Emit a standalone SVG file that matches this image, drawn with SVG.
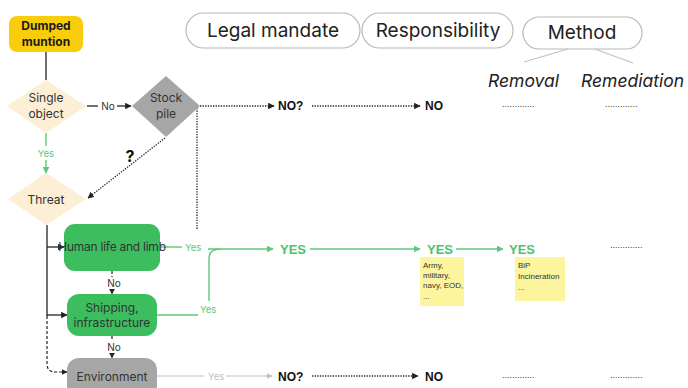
<svg xmlns="http://www.w3.org/2000/svg" width="688" height="388" viewBox="0 0 688 388">
<style>
text{font-family:Inter,"Open Sans","Liberation Sans",sans-serif;}
.pill{fill:#fff;stroke:#b8b8b8;stroke-width:1.2;}
.hdr{font-size:19px;fill:#222;text-anchor:middle;}
.it{font-size:17.5px;font-style:italic;fill:#222;}
.nd{font-size:12px;fill:#333;text-anchor:middle;}
.bk{font-family:"Liberation Sans",Arial,sans-serif;font-weight:bold;font-size:12px;fill:#111;}
.yes{font-family:"Liberation Sans",Arial,sans-serif;font-weight:bold;font-size:13px;fill:#4cc36a;}
.gy{font-size:9.5px;fill:#5ec87a;}
.lb{font-size:10px;fill:#333;text-anchor:middle;}
.dots{font-family:"Liberation Sans",Arial,sans-serif;font-size:9px;fill:#333;}
.note{fill:#fdf59e;}
.nt{font-family:"Liberation Sans",Arial,sans-serif;font-size:8px;fill:#333;}
.k{stroke:#222;stroke-width:1.3;fill:none;}
.dot{stroke:#222;stroke-width:1.3;stroke-dasharray:1.3 1.3;fill:none;}
.dash{stroke:#222;stroke-width:1.2;stroke-dasharray:3 2;fill:none;}
.g{stroke:#5ec87a;stroke-width:1.4;fill:none;}
.gr{stroke:#c0c0c0;stroke-width:1.2;fill:none;}
</style>
<defs>
<marker id="ak" viewBox="0 0 10 10" refX="9" refY="5" markerWidth="5" markerHeight="5" orient="auto"><path d="M0,0L10,5L0,10z" fill="#222"/></marker>
<marker id="ag" viewBox="0 0 10 10" refX="9" refY="5" markerWidth="5" markerHeight="5" orient="auto"><path d="M0,0L10,5L0,10z" fill="#5ec87a"/></marker>
<marker id="agr" viewBox="0 0 10 10" refX="9" refY="5" markerWidth="5" markerHeight="5" orient="auto"><path d="M0,0L10,5L0,10z" fill="#c0c0c0"/></marker>
</defs>
<rect width="688" height="388" fill="#fff"/>

<g id="headers">
<rect class="pill" x="186" y="13" width="174" height="35" rx="17.5"/>
<text class="hdr" x="273" y="37">Legal mandate</text>
<rect class="pill" x="362" y="13" width="151" height="35" rx="17.5"/>
<text class="hdr" x="438" y="37">Responsibility</text>
<rect class="pill" x="523" y="17" width="119" height="32" rx="16"/>
<text class="hdr" x="582" y="39">Method</text>
<line class="gr" x1="568" y1="49" x2="524" y2="62"/>
<line class="gr" x1="595" y1="49" x2="633" y2="63"/>
<text class="it" x="488" y="87">Removal</text>
<text class="it" x="581" y="87">Remediation</text>
</g>

<g id="connectors">
<line class="k" x1="46" y1="52" x2="46" y2="80"/>
<line class="k" x1="87" y1="106" x2="98" y2="106"/>
<line class="k" x1="117" y1="106" x2="131" y2="106" marker-end="url(#ak)"/>
<line class="g" x1="46" y1="133" x2="46" y2="146"/>
<line class="g" x1="46" y1="160" x2="46" y2="173" marker-end="url(#ag)"/>
<line class="dot" x1="200" y1="106" x2="274" y2="106" marker-end="url(#ak)"/>
<line class="dot" x1="197" y1="108" x2="197" y2="230"/>
<line class="dot" x1="165" y1="138" x2="88" y2="198" marker-end="url(#ak)"/>
<line class="dot" x1="312" y1="106" x2="420" y2="106" marker-end="url(#ak)"/>
<line class="k" x1="47" y1="225" x2="47" y2="316"/>
<line class="k" x1="47" y1="247" x2="64" y2="247" marker-end="url(#ak)"/>
<line class="k" x1="47" y1="315" x2="67" y2="315" marker-end="url(#ak)"/>
<path class="dash" d="M47,316 V364 Q47,372 56,372 H67" marker-end="url(#ak)"/>
<line class="dash" x1="112" y1="271" x2="112" y2="277"/>
<line class="dash" x1="112" y1="289" x2="112" y2="294" marker-end="url(#ak)"/>
<line class="dash" x1="112" y1="336" x2="112" y2="341"/>
<line class="dash" x1="112" y1="353" x2="112" y2="358" marker-end="url(#ak)"/>
<line class="g" x1="160" y1="247" x2="182" y2="247"/>
<line class="g" x1="208" y1="249" x2="273" y2="249" marker-end="url(#ag)"/>
<path class="g" d="M209,301 V259 Q209,249 220,249"/>
<line class="g" x1="157" y1="315" x2="198" y2="315"/>
<line class="g" x1="310" y1="249" x2="420" y2="249" marker-end="url(#ag)"/>
<line class="g" x1="456" y1="249" x2="503" y2="249" marker-end="url(#ag)"/>
<line class="gr" x1="157" y1="376" x2="204" y2="376"/>
<line class="gr" x1="226" y1="376" x2="272" y2="376" marker-end="url(#agr)"/>
<line class="dot" x1="312" y1="376" x2="418" y2="376" marker-end="url(#ak)"/>
</g>

<g id="labels">
<text class="lb" x="108" y="110" font-size="11">No</text>
<text class="gy" x="46" y="157" text-anchor="middle">Yes</text>
<text x="130" y="162" font-family="Liberation Sans,Arial,sans-serif" font-weight="bold" font-size="16" fill="#111" text-anchor="middle">?</text>
<text class="bk" x="278" y="110">NO?</text>
<text class="bk" x="425" y="110">NO</text>
<text class="dots" x="502" y="107">.............</text>
<text class="dots" x="605" y="107">.............</text>
<text class="gy" x="185" y="251">Yes</text>
<text class="gy" x="200" y="313">Yes</text>
<text class="lb" x="114" y="287">No</text>
<text class="lb" x="114" y="351">No</text>
<text class="yes" x="280" y="254">YES</text>
<text class="yes" x="427" y="254">YES</text>
<text class="yes" x="509" y="254">YES</text>
<text class="dots" x="610" y="248">.............</text>
<text x="208" y="380" font-size="9.5" fill="#c0c0c0">Yes</text>
<text class="bk" x="278" y="381">NO?</text>
<text class="bk" x="425" y="381">NO</text>
<text class="dots" x="502" y="378">.............</text>
<text class="dots" x="610" y="378">.............</text>
</g>

<g id="dumped">
<rect x="9" y="16" width="74" height="36" rx="8" fill="#f9cd0b"/>
<text x="46" y="30" font-size="12" font-weight="bold" fill="#1a1a1a" text-anchor="middle">Dumped</text>
<text x="46" y="46" font-size="12" font-weight="bold" fill="#1a1a1a" text-anchor="middle">muntion</text>
</g>
<g id="single">
<polygon points="46,80 86,106 46,133 7,106" fill="#fdefd6"/>
<text class="nd" x="46" y="102">Single</text>
<text class="nd" x="46" y="118">object</text>
</g>
<g id="stock">
<polygon points="166,76 200,106 166,137 132,106" fill="#a6a6a6"/>
<text class="nd" x="166" y="102" font-size="11">Stock</text>
<text class="nd" x="166" y="118" font-size="11">pile</text>
</g>
<g id="threat">
<polygon points="46,173 86,199 46,225 8,199" fill="#fdefd6"/>
<text class="nd" x="46" y="204" font-size="13">Threat</text>
</g>
<g id="human">
<rect x="64" y="224" width="96" height="47" rx="11" fill="#3cbe5f"/>
<text class="nd" x="112" y="251" font-size="10.3" letter-spacing="-0.25" fill="#1a1a1a">Human life and limb</text>
</g>
<g id="shipping">
<rect x="67" y="294" width="90" height="42" rx="12" fill="#3cbe5f"/>
<text class="nd" x="112" y="312" font-size="11" fill="#1a1a1a">Shipping,</text>
<text class="nd" x="112" y="327" font-size="11" fill="#1a1a1a">infrastructure</text>
</g>
<g id="environment">
<rect x="67" y="358" width="90" height="40" rx="12" fill="#a6a6a6"/>
<text class="nd" x="112" y="381" font-size="11" fill="#1a1a1a">Environment</text>
</g>
<g id="note-army">
<rect class="note" x="420" y="257" width="44" height="49"/>
<text class="nt" x="423" y="268">Army,</text>
<text class="nt" x="423" y="278">military,</text>
<text class="nt" x="423" y="288">navy, EOD,</text>
<text class="nt" x="423" y="299">...</text>
</g>
<g id="note-bip">
<rect class="note" x="515" y="257" width="50" height="44"/>
<text class="nt" x="518" y="268">BiP</text>
<text class="nt" x="518" y="279">Incineration</text>
<text class="nt" x="518" y="290">...</text>
</g>
</svg>
